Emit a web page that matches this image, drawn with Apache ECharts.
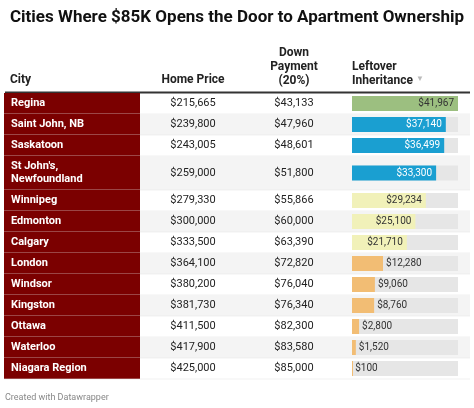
<!DOCTYPE html>
<html><head><meta charset="utf-8">
<script src="https://cdn.jsdelivr.net/npm/echarts@6/dist/echarts.min.js"></script>
<style>html,body{margin:0;padding:0;background:#fff}#c{width:474px;height:408px}</style>
</head><body><div id="c"></div>
<script>
var cities = ['Regina','Saint John, NB','Saskatoon',"St John's,\nNewfoundland",'Winnipeg','Edmonton','Calgary','London','Windsor','Kingston','Ottawa','Waterloo','Niagara Region'];
var homePrices = ['$215,665','$239,800','$243,005','$259,000','$279,330','$300,000','$333,500','$364,100','$380,200','$381,730','$411,500','$417,900','$425,000'];
var downPayments = ['$43,133','$47,960','$48,601','$51,800','$55,866','$60,000','$63,390','$72,820','$76,040','$76,340','$82,300','$83,580','$85,000'];
var leftover = [41967,37140,36499,33300,29234,25100,21710,12280,9060,8760,2800,1520,100];
var barColors = ['#9cbf80','#1a9fd1','#1a9fd1','#1a9fd1','#f1f1b9','#f1f1b9','#f1f1b9','#f2bd74','#f2bd74','#f2bd74','#f2bd74','#f2bd74','#f2bd74'];
var labelColors = ['#333','#fff','#fff','#fff','#333','#333','#333','#333','#333','#333','#333','#333','#333'];
var rowUnits = cities.map(function(c){return c.indexOf('\n')>=0?1.62:1;});
var starts=[],acc=0;rowUnits.forEach(function(u){starts.push(acc);acc+=u;});
var total=acc, MAXV=41967;
var data = leftover.map(function(v,i){return [i,starts[i],starts[i]+rowUnits[i],v];});
var chart = echarts.init(document.getElementById('c'));
var F='Roboto, sans-serif';
function fmt(v){return '$'+v.toLocaleString('en-US');}
chart.setOption({
  animation:false,
  title:{text:'Cities Where $85K Opens the Door to Apartment Ownership',left:5,top:4,textStyle:{fontFamily:F,fontSize:17,fontWeight:'bold',color:'#111'}},
  graphic:[
    {type:'text',left:10,top:74,style:{text:'City',font:'bold 12px Roboto',fill:'#222'}},
    {type:'text',x:193,y:74,style:{text:'Home Price',font:'bold 12px Roboto',fill:'#222',align:'center'}},
    {type:'text',x:294,y:46,style:{text:'Down\nPayment\n(20%)',font:'bold 12px Roboto',fill:'#222',align:'center',lineHeight:14}},
    {type:'text',left:352,top:60,style:{text:'Leftover\nInheritance',font:'bold 12px Roboto',fill:'#222',lineHeight:14}},
    {type:'text',left:416,top:75,style:{text:'▼',font:'8px Roboto',fill:'#bbb'}},
    {type:'line',shape:{x1:5,y1:92.5,x2:470,y2:92.5},style:{stroke:'#333',lineWidth:2}},
    {type:'text',left:5,top:393,style:{text:'Created with Datawrapper',font:'9px Roboto',fill:'#888'}}
  ],
  grid:{left:352,right:16,top:93,bottom:408-379},
  xAxis:{type:'value',min:0,max:MAXV,show:false},
  yAxis:{type:'value',min:0,max:total,inverse:true,show:false},
  series:[{type:'custom',data:data,encode:{x:3,y:[1,2]},clip:false,
    renderItem:function(params,api){
      var i=api.value(0),s=api.value(1),e=api.value(2),v=api.value(3);
      var a=api.coord([0,s]),b=api.coord([v,e]),full=api.coord([MAXV,e]);
      var top=a[1],bot=b[1],mid=(top+bot)/2,h=bot-top;
      var ch=[];
      if(i%2===1) ch.push({type:'rect',shape:{x:140,y:top,width:330,height:h},style:{fill:'#f4f4f4'}});
      ch.push({type:'rect',shape:{x:4,y:top,width:136,height:h},style:{fill:'#7b0000'}});
      ch.push({type:'line',shape:{x1:4,y1:bot,x2:470,y2:bot},style:{stroke:'#e8e8e8',lineWidth:0.6}});
      ch.push({type:'text',style:{x:11,y:mid,text:cities[i],font:'bold 11px Roboto',fill:'#fff',verticalAlign:'middle',lineHeight:13}});
      ch.push({type:'text',style:{x:193,y:mid,text:homePrices[i],font:'11px Roboto',fill:'#222',align:'center',verticalAlign:'middle'}});
      ch.push({type:'text',style:{x:294,y:mid,text:downPayments[i],font:'11px Roboto',fill:'#222',align:'center',verticalAlign:'middle'}});
      var bh=15;
      ch.push({type:'rect',shape:{x:a[0],y:mid-bh/2,width:full[0]-a[0],height:bh},style:{fill:'#e6e6e6'}});
      ch.push({type:'rect',shape:{x:a[0],y:mid-bh/2,width:Math.max(b[0]-a[0],1),height:bh},style:{fill:barColors[i]}});
      var inside=v>=20000;
      ch.push({type:'text',style:{x:inside?b[0]-4:b[0]+3,y:mid,text:fmt(v),font:'10px Roboto',fill:labelColors[i],align:inside?'right':'left',verticalAlign:'middle'}});
      return {type:'group',children:ch};
    }}]
});
</script></body></html>
